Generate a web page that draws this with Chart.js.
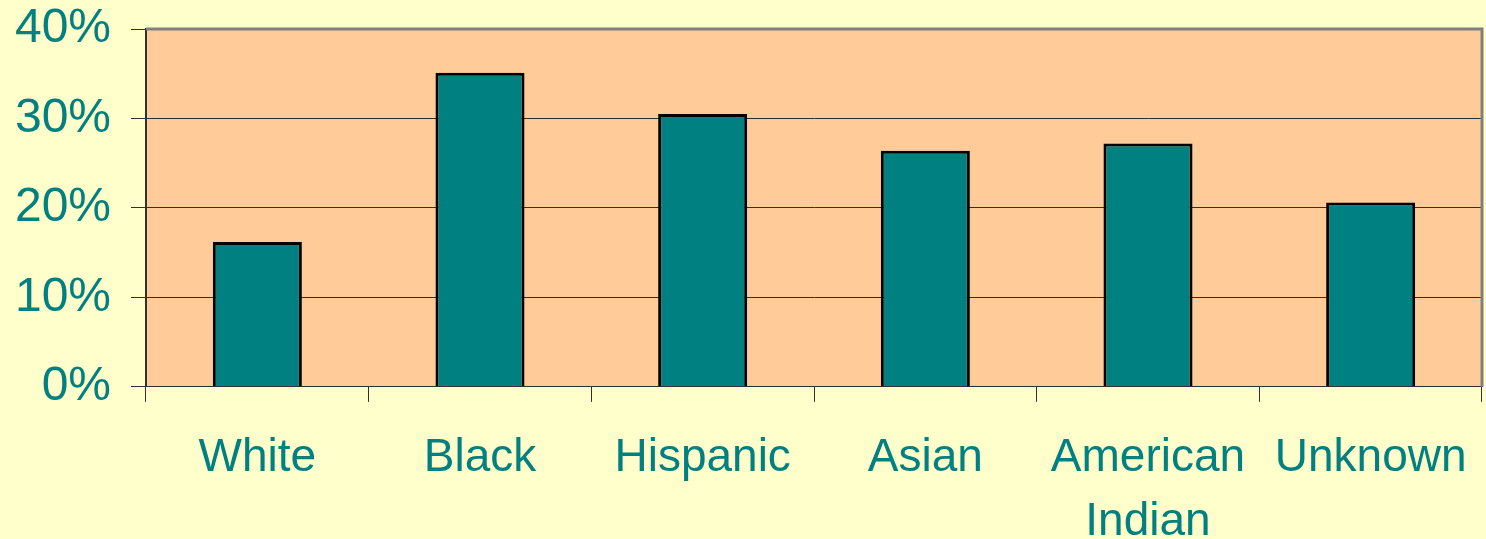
<!DOCTYPE html>
<html>
<head>
<meta charset="utf-8">
<script src="https://cdn.jsdelivr.net/npm/chart.js@4/dist/chart.umd.min.js"></script>
<style>
  html, body { margin: 0; padding: 0; background: #FFFFCC; overflow: hidden; }
  #wrap { width: 1486px; height: 539px; overflow: hidden; }
</style>
</head>
<body>
<div id="wrap"><canvas id="c" width="1486" height="606"></canvas></div>
<script>
var categories = ['White', 'Black', 'Hispanic', 'Asian', ['American', 'Indian'], 'Unknown'];
var values = [16.2, 35.1, 30.5, 26.4, 27.2, 20.6];
var yTicks = [0, 10, 20, 30, 40];

// peach plot area + grey frame
var plotBg = {
  id: 'plotBg',
  beforeDraw: function (chart) {
    var a = chart.chartArea, c = chart.ctx;
    c.save();
    c.fillStyle = '#FFCC99';
    c.fillRect(a.left, a.top, a.right - a.left, a.bottom - a.top);
    c.restore();
  },
  afterDatasetsDraw: function (chart) {
    var a = chart.chartArea, c = chart.ctx;
    c.save();
    c.strokeStyle = '#808080';
    c.lineWidth = 3;
    c.beginPath();
    c.moveTo(a.left, a.top);
    c.lineTo(a.right, a.top);
    c.lineTo(a.right, a.bottom);
    c.stroke();
    c.restore();
  }
};

var ctx = document.getElementById('c').getContext('2d');
var myChart = new Chart(ctx, {
  type: 'bar',
  data: {
    labels: categories,
    datasets: [{
      data: values,
      backgroundColor: '#008080',
      borderColor: '#000000',
      borderWidth: 3,
      barPercentage: 0.4,
      categoryPercentage: 1,
    }],
  },
  plugins: [plotBg],
  options: {
    responsive: false,
    animation: false,
    layout: { padding: { left: 0, right: 4, top: 29, bottom: 0 } },
    plugins: {
      legend: { display: false },
      tooltip: { enabled: false },
      title: {
        display: true,
        position: 'bottom',
        text: 'Fall 2006',
        color: '#9C2A00',
        font: { family: 'Liberation Sans', size: 46 },
        padding: { top: -46, bottom: 18 },
      },
    },
    scales: {
      x: {
        offset: true,
        afterFit: function (axis) { axis.paddingLeft = 0; axis.paddingRight = 0; },
        grid: {
          offset: true,
          drawOnChartArea: false,
          color: '#303030',
          tickLength: 15,
        },
        border: { color: '#303030', width: 1 },
        ticks: {
          color: '#008080',
          padding: 25,
          maxRotation: 0,
          font: { family: 'Liberation Sans', size: 46, lineHeight: 1.38 },
        },
      },
      y: {
        min: 0,
        max: 40,
        afterBuildTicks: function (axis) {
          axis.ticks = yTicks.map(function (v) { return { value: v }; });
        },
        afterFit: function (axis) {
          axis.width = 146;
          axis.paddingTop = 0;
          axis.paddingBottom = 0;
        },
        grid: {
          color: '#303030',
          tickLength: 15,
        },
        border: { color: '#303030', width: 2 },
        ticks: {
          color: '#008080',
          padding: 20,
          font: { family: 'Liberation Sans', size: 48 },
          callback: function (v) { return v + '%'; },
        },
      },
    },
  },
});
</script>
</body>
</html>
